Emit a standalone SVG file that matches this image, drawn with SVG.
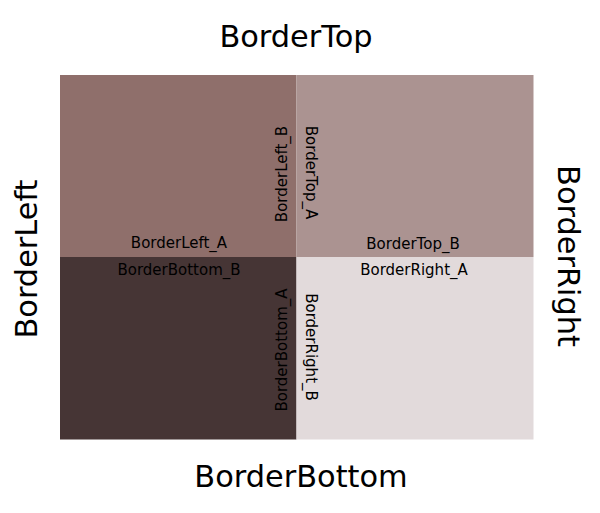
<svg xmlns="http://www.w3.org/2000/svg" width="600" height="513" viewBox="0 0 600 513">
<style>
text{font-family:"DejaVu Sans",sans-serif;fill:#000;text-anchor:middle}
.s{font-size:15px}
.l{font-size:30.4px}
</style>
<rect x="0" y="0" width="600" height="513" fill="#fff"/>
<g id="quad-tl"><rect x="60" y="75" width="236.5" height="182" fill="#8f6f6b"/></g>
<g id="quad-tr"><rect x="296.5" y="75" width="237" height="182" fill="#ab9391"/></g>
<g id="quad-bl"><rect x="60" y="257" width="236.5" height="182.5" fill="#463535"/></g>
<g id="quad-br"><rect x="296.5" y="257" width="237" height="182.5" fill="#e2dadb"/></g>
<g id="labels-inner">
<text class="s" x="179" y="248">BorderLeft_A</text>
<text class="s" x="179" y="275">BorderBottom_B</text>
<text class="s" x="413" y="248.5">BorderTop_B</text>
<text class="s" x="414" y="275">BorderRight_A</text>
<text class="s" transform="translate(287,174) rotate(-90)">BorderLeft_B</text>
<text class="s" transform="translate(306,172.5) rotate(90)">BorderTop_A</text>
<text class="s" transform="translate(287,350) rotate(-90)">BorderBottom_A</text>
<text class="s" transform="translate(306,347) rotate(90)">BorderRight_B</text>
</g>
<g id="labels-outer">
<text class="l" x="296" y="46.5">BorderTop</text>
<text class="l" x="301" y="487">BorderBottom</text>
<text class="l" transform="translate(37,259) rotate(-90)">BorderLeft</text>
<text class="l" transform="translate(557.5,256) rotate(90)">BorderRight</text>
</g>
</svg>
